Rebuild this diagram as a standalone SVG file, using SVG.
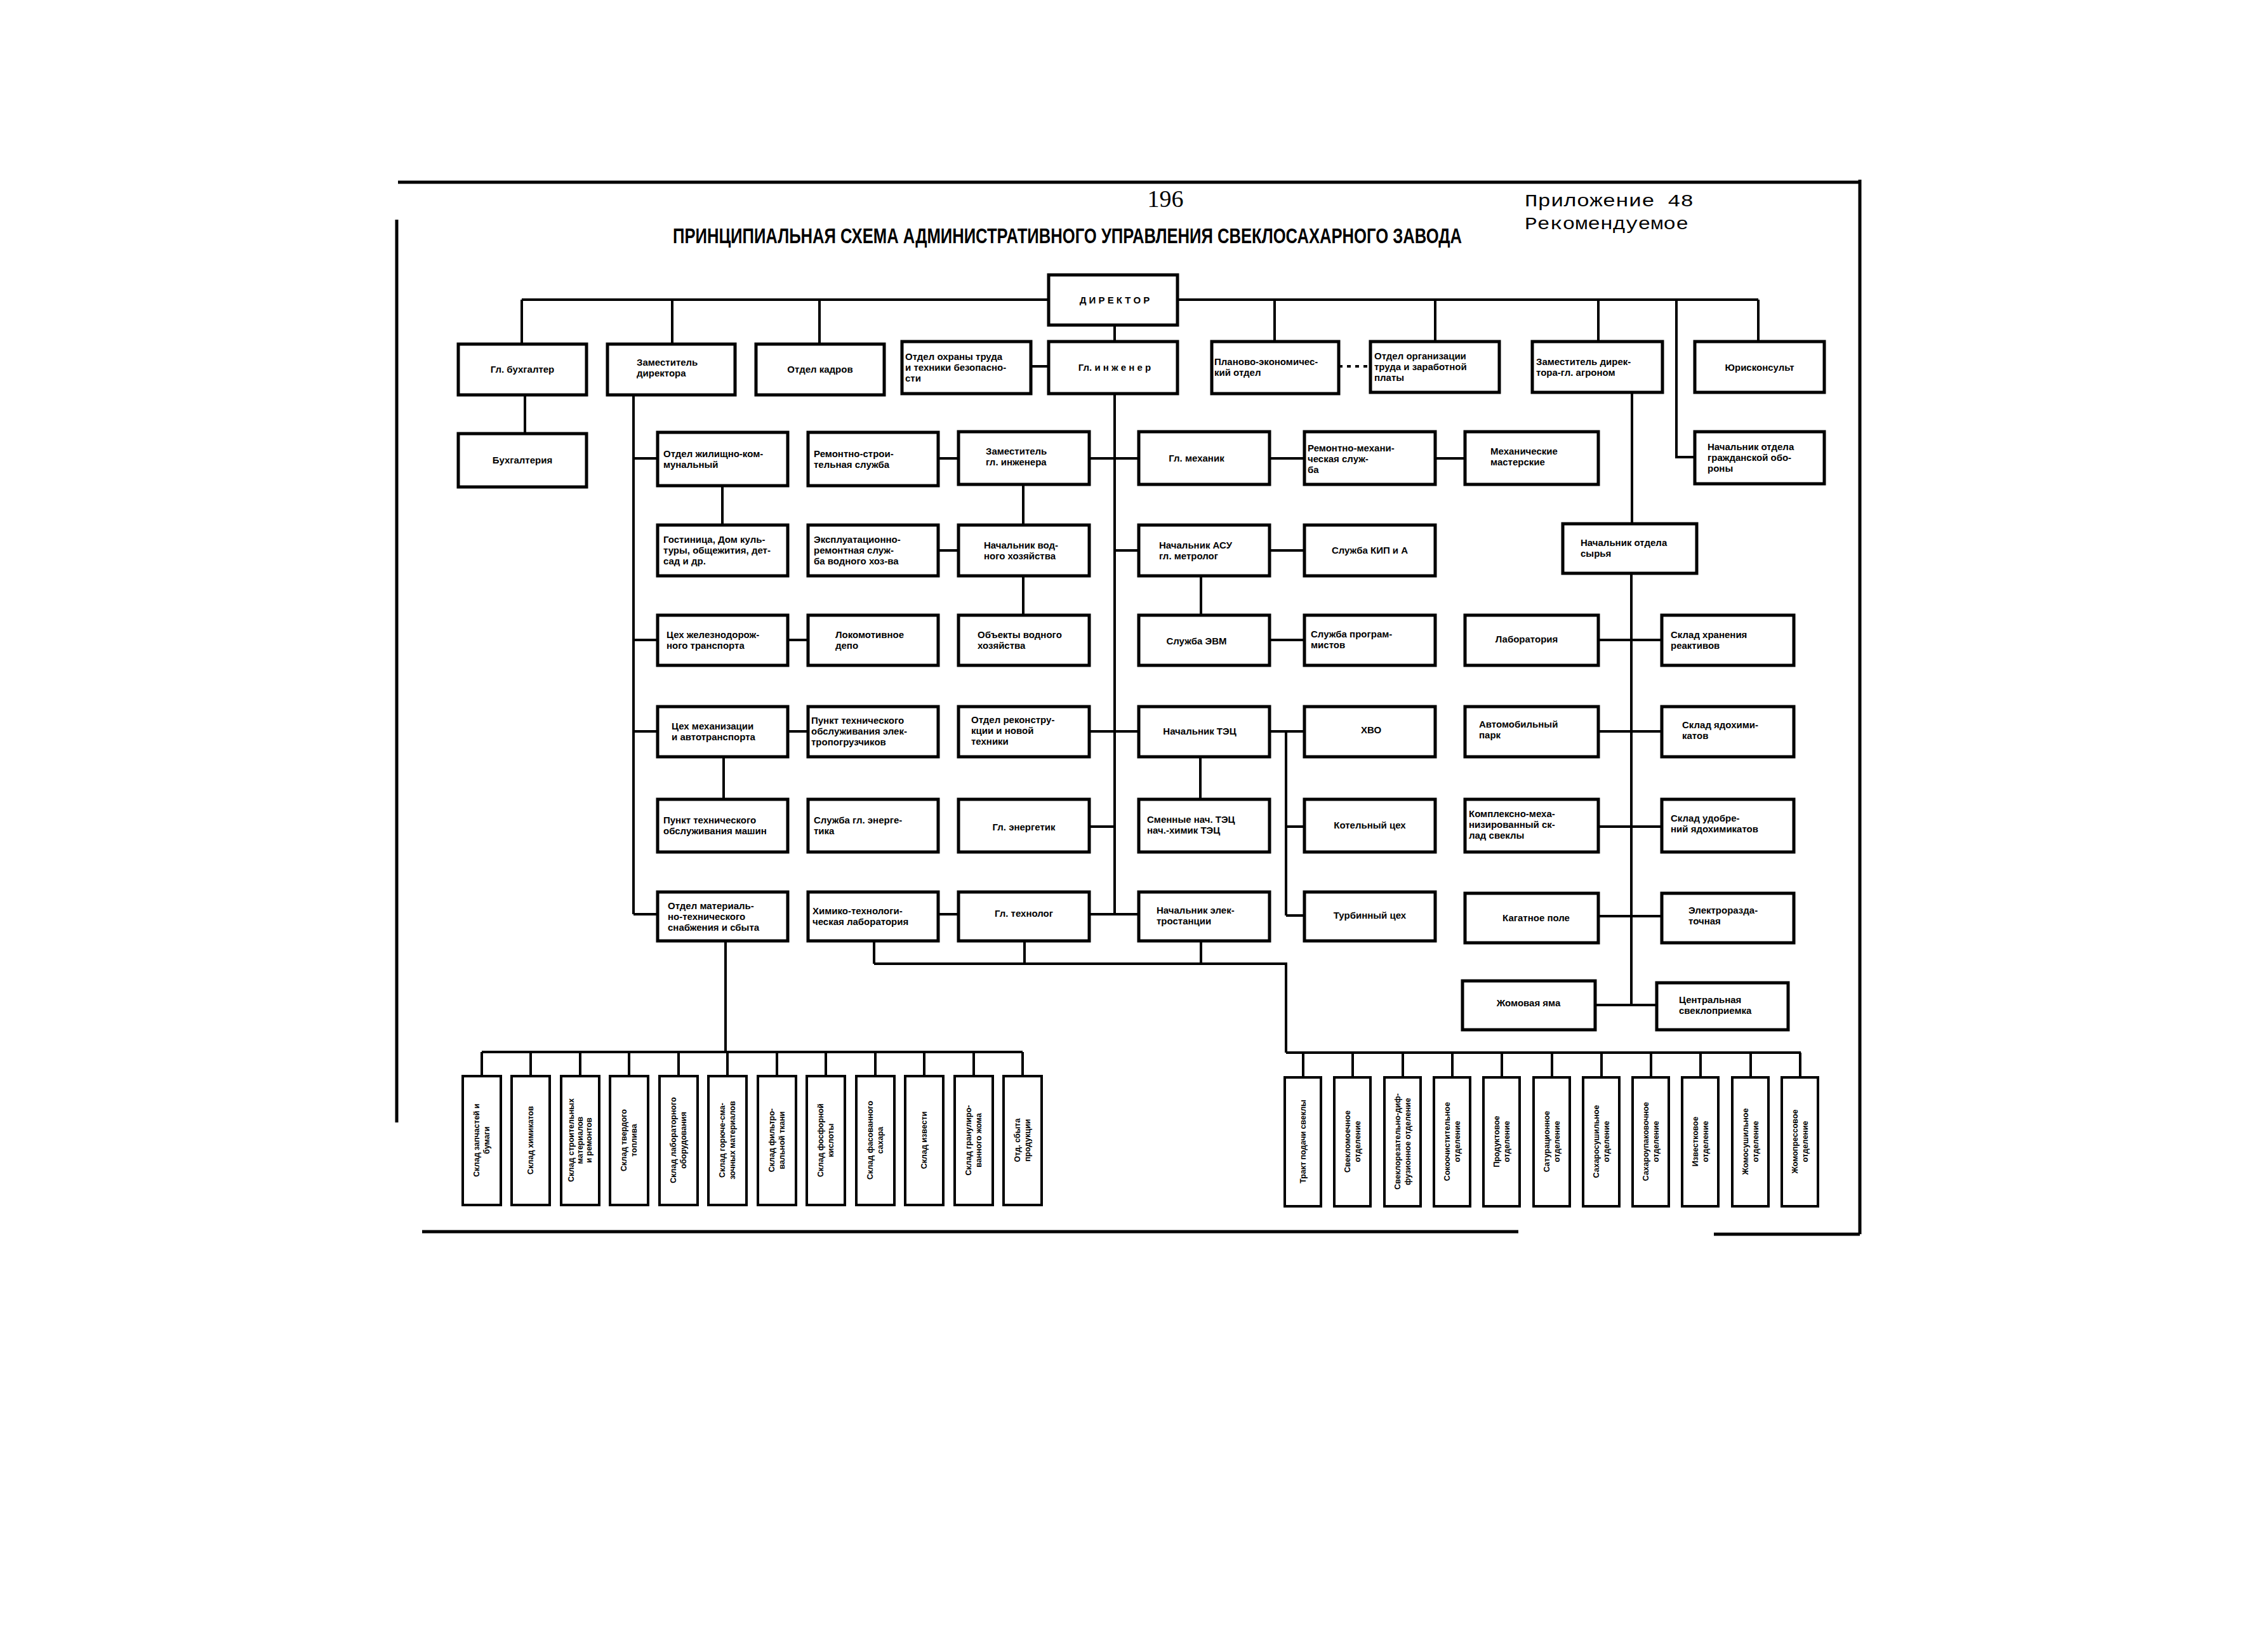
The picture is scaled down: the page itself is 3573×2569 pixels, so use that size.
<svg xmlns="http://www.w3.org/2000/svg" width="3573" height="2569" viewBox="0 0 3573 2569">
<style>
.box{fill:#fff;stroke:#000;stroke-width:5}
.vb{fill:#fff;stroke:#000;stroke-width:4}
.ln{stroke:#000;stroke-width:4;fill:none}
.dl{stroke:#000;stroke-width:4;fill:none;stroke-dasharray:6 7}
.fr{stroke:#000;stroke-width:5;fill:none}
.t{font-family:"Liberation Sans",Arial,sans-serif;font-weight:bold;font-size:15px;fill:#000}
.c{text-anchor:middle}
.v{font-family:"Liberation Sans",Arial,sans-serif;font-weight:bold;font-size:12.5px;fill:#000;text-anchor:middle}
.tw{font-family:"Liberation Mono","Courier New",monospace;font-size:28px;fill:#000}
</style>
<rect width="3573" height="2569" fill="#fff"/>
<g id="frame">
<path class="fr" d="M627 287H2930M625 346V1768M2930 283V1944M665 1940H2392M2700 1944H2930"/>
</g>
<g id="header">
<text x="1836" y="326" font-family="Liberation Serif,serif" font-size="38" text-anchor="middle">196</text>
<text transform="translate(1060,383) scale(1,1.4)" x="0" y="0" font-family="Liberation Sans,Arial,sans-serif" font-weight="bold" font-size="24" textLength="1243" lengthAdjust="spacingAndGlyphs">ПРИНЦИПИАЛЬНАЯ СХЕМА АДМИНИСТРАТИВНОГО УПРАВЛЕНИЯ СВЕКЛОСАХАРНОГО ЗАВОДА</text>
<text class="tw" x="2402" y="325" textLength="266" lengthAdjust="spacingAndGlyphs">Приложение 48</text>
<text class="tw" x="2402" y="361" textLength="258" lengthAdjust="spacingAndGlyphs">Рекомендуемое</text>
</g>
<g id="connectors">
<path class="ln" d="M822 472H1652M1855 472H2770M822 472V542M1059 472V542M1291 472V542M2008 472V538M2261 472V538M2518 472V538M2770 472V538M2641 472V720H2670M1756 512V538M1624 577H1652"/>
<path class="dl" d="M2109 577H2159"/>
<path class="ln" d="M827 622V683"/>
<path class="ln" d="M998 622V1440M998 722H1036M998 1008H1036M998 1152H1036M998 1440H1036M1138 765V827M1140 1192V1259M1241 1008H1273M1241 1152H1273"/>
<path class="ln" d="M1478 722H1510M1478 867H1510M1612 765V827M1612 907V969M1478 1440H1510"/>
<path class="ln" d="M1756 620V1440M1716 722H1794M1756 867H1794M1716 1152H1794M1716 1302H1756M1716 1440H1794"/>
<path class="ln" d="M2000 722H2055M2261 722H2308M2000 867H2055M1892 907V969M2000 1008H2055M2000 1152H2055M1891 1192V1259M2026 1152V1442M2026 1302H2055M2026 1442H2055"/>
<path class="ln" d="M1377 1483V1518M1614 1483V1518M1892 1483V1518M1377 1518H2026V1658M2026 1658H2837"/>
<path class="ln" d="M2053 1658V1697M2131 1658V1697M2210 1658V1697M2288 1658V1697M2366 1658V1697M2445 1658V1697M2523 1658V1697M2601 1658V1697M2679 1658V1697M2758 1658V1697M2836 1658V1697"/>
<path class="ln" d="M1143 1482V1657M759 1657H1611M759 1657V1695M836 1657V1695M914 1657V1695M991 1657V1695M1069 1657V1695M1146 1657V1695M1224 1657V1695M1301 1657V1695M1379 1657V1695M1456 1657V1695M1534 1657V1695M1611 1657V1695"/>
<path class="ln" d="M2571 618V825M2570 903V1583M2518 1008H2618M2518 1152H2618M2518 1302H2618M2518 1443H2618M2513 1583H2618"/>
</g>
<g id="n_dir"><rect class="box" x="1652" y="433" width="203" height="79"/><text class="t c" x="1756" y="478">Д И Р Е К Т О Р</text></g>
<g id="n_glinzh"><rect class="box" x="1652" y="538" width="203" height="82"/><text class="t c" x="1756" y="584">Гл. и н ж е н е р</text></g>
<g id="n_glbuh"><rect class="box" x="722" y="542" width="202" height="80"/><text class="t c" x="823" y="587">Гл. бухгалтер</text></g>
<g id="n_zamdir"><rect class="box" x="957" y="542" width="201" height="80"/><text class="t" x="1003"><tspan x="1003" y="576">Заместитель</tspan><tspan x="1003" y="593">директора</tspan></text></g>
<g id="n_kadry"><rect class="box" x="1191" y="542" width="202" height="80"/><text class="t c" x="1292" y="587">Отдел кадров</text></g>
<g id="n_ohrana"><rect class="box" x="1421" y="538" width="203" height="82"/><text class="t"><tspan x="1426" y="567">Отдел охраны труда</tspan><tspan x="1426" y="584">и техники безопасно-</tspan><tspan x="1426" y="601">сти</tspan></text></g>
<g id="n_plan"><rect class="box" x="1909" y="538" width="200" height="82"/><text class="t"><tspan x="1913" y="575">Планово-экономичес-</tspan><tspan x="1913" y="592">кий отдел</tspan></text></g>
<g id="n_orgtr"><rect class="box" x="2159" y="538" width="203" height="80"/><text class="t"><tspan x="2165" y="566">Отдел организации</tspan><tspan x="2165" y="583">труда и заработной</tspan><tspan x="2165" y="600">платы</tspan></text></g>
<g id="n_zamagr"><rect class="box" x="2414" y="538" width="205" height="80"/><text class="t"><tspan x="2420" y="575">Заместитель дирек-</tspan><tspan x="2420" y="592">тора-гл. агроном</tspan></text></g>
<g id="n_yur"><rect class="box" x="2670" y="538" width="204" height="80"/><text class="t c" x="2772" y="584">Юрисконсульт</text></g>
<g id="n_buh"><rect class="box" x="722" y="683" width="202" height="84"/><text class="t c" x="823" y="730">Бухгалтерия</text></g>
<g id="n_go"><rect class="box" x="2670" y="680" width="204" height="82"/><text class="t"><tspan x="2690" y="709">Начальник отдела</tspan><tspan x="2690" y="726">гражданской обо-</tspan><tspan x="2690" y="743">роны</tspan></text></g>
<g id="n_syr"><rect class="box" x="2462" y="825" width="211" height="78"/><text class="t"><tspan x="2490" y="860">Начальник отдела</tspan><tspan x="2490" y="877">сырья</tspan></text></g>

<g id="n_a1"><rect class="box" x="1036" y="681" width="205" height="84"/><text class="t"><tspan x="1045" y="720">Отдел жилищно-ком-</tspan><tspan x="1045" y="737">мунальный</tspan></text></g>
<g id="n_a2"><rect class="box" x="1036" y="827" width="205" height="80"/><text class="t"><tspan x="1045" y="855">Гостиница, Дом куль-</tspan><tspan x="1045" y="872">туры, общежития, дет-</tspan><tspan x="1045" y="889">сад и др.</tspan></text></g>
<g id="n_a3"><rect class="box" x="1036" y="969" width="205" height="79"/><text class="t"><tspan x="1050" y="1005">Цех железнодорож-</tspan><tspan x="1050" y="1022">ного транспорта</tspan></text></g>
<g id="n_a4"><rect class="box" x="1036" y="1113" width="205" height="79"/><text class="t"><tspan x="1058" y="1149">Цех механизации</tspan><tspan x="1058" y="1166">и автотранспорта</tspan></text></g>
<g id="n_a5"><rect class="box" x="1036" y="1259" width="205" height="83"/><text class="t"><tspan x="1045" y="1297">Пункт технического</tspan><tspan x="1045" y="1314">обслуживания машин</tspan></text></g>
<g id="n_a6"><rect class="box" x="1036" y="1405" width="205" height="77"/><text class="t"><tspan x="1052" y="1432">Отдел материаль-</tspan><tspan x="1052" y="1449">но-технического</tspan><tspan x="1052" y="1466">снабжения и сбыта</tspan></text></g>

<g id="n_b1"><rect class="box" x="1273" y="681" width="205" height="84"/><text class="t"><tspan x="1282" y="720">Ремонтно-строи-</tspan><tspan x="1282" y="737">тельная служба</tspan></text></g>
<g id="n_b2"><rect class="box" x="1273" y="827" width="205" height="80"/><text class="t"><tspan x="1282" y="855">Эксплуатационно-</tspan><tspan x="1282" y="872">ремонтная служ-</tspan><tspan x="1282" y="889">ба водного хоз-ва</tspan></text></g>
<g id="n_b3"><rect class="box" x="1273" y="969" width="205" height="79"/><text class="t"><tspan x="1316" y="1005">Локомотивное</tspan><tspan x="1316" y="1022">депо</tspan></text></g>
<g id="n_b4"><rect class="box" x="1273" y="1113" width="205" height="79"/><text class="t"><tspan x="1278" y="1140">Пункт технического</tspan><tspan x="1278" y="1157">обслуживания элек-</tspan><tspan x="1278" y="1174">тропогрузчиков</tspan></text></g>
<g id="n_b5"><rect class="box" x="1273" y="1259" width="205" height="83"/><text class="t"><tspan x="1282" y="1297">Служба гл. энерге-</tspan><tspan x="1282" y="1314">тика</tspan></text></g>
<g id="n_b6"><rect class="box" x="1273" y="1405" width="205" height="77"/><text class="t"><tspan x="1280" y="1440">Химико-технологи-</tspan><tspan x="1280" y="1457">ческая лаборатория</tspan></text></g>

<g id="n_c1"><rect class="box" x="1510" y="680" width="206" height="83"/><text class="t"><tspan x="1553" y="716">Заместитель</tspan><tspan x="1553" y="733">гл. инженера</tspan></text></g>
<g id="n_c2"><rect class="box" x="1510" y="827" width="206" height="80"/><text class="t"><tspan x="1550" y="864">Начальник вод-</tspan><tspan x="1550" y="881">ного хозяйства</tspan></text></g>
<g id="n_c3"><rect class="box" x="1510" y="969" width="206" height="79"/><text class="t"><tspan x="1540" y="1005">Объекты водного</tspan><tspan x="1540" y="1022">хозяйства</tspan></text></g>
<g id="n_c4"><rect class="box" x="1510" y="1113" width="206" height="79"/><text class="t"><tspan x="1530" y="1139">Отдел реконстру-</tspan><tspan x="1530" y="1156">кции и новой</tspan><tspan x="1530" y="1173">техники</tspan></text></g>
<g id="n_c5"><rect class="box" x="1510" y="1259" width="206" height="83"/><text class="t c" x="1613" y="1308">Гл. энергетик</text></g>
<g id="n_c6"><rect class="box" x="1510" y="1405" width="206" height="77"/><text class="t c" x="1613" y="1444">Гл. технолог</text></g>

<g id="n_d1"><rect class="box" x="1794" y="680" width="206" height="83"/><text class="t c" x="1885" y="727">Гл. механик</text></g>
<g id="n_d2"><rect class="box" x="1794" y="827" width="206" height="80"/><text class="t"><tspan x="1826" y="864">Начальник АСУ</tspan><tspan x="1826" y="881">гл. метролог</tspan></text></g>
<g id="n_d3"><rect class="box" x="1794" y="969" width="206" height="79"/><text class="t c" x="1885" y="1015">Служба ЭВМ</text></g>
<g id="n_d4"><rect class="box" x="1794" y="1113" width="206" height="79"/><text class="t c" x="1890" y="1157">Начальник ТЭЦ</text></g>
<g id="n_d5"><rect class="box" x="1794" y="1259" width="206" height="83"/><text class="t"><tspan x="1807" y="1296">Сменные нач. ТЭЦ</tspan><tspan x="1807" y="1313">нач.-химик ТЭЦ</tspan></text></g>
<g id="n_d6"><rect class="box" x="1794" y="1405" width="206" height="77"/><text class="t"><tspan x="1822" y="1439">Начальник элек-</tspan><tspan x="1822" y="1456">тростанции</tspan></text></g>

<g id="n_e1"><rect class="box" x="2055" y="680" width="206" height="83"/><text class="t"><tspan x="2060" y="711">Ремонтно-механи-</tspan><tspan x="2060" y="728">ческая служ-</tspan><tspan x="2060" y="745">ба</tspan></text></g>
<g id="n_e2"><rect class="box" x="2055" y="827" width="206" height="80"/><text class="t c" x="2158" y="872">Служба КИП и А</text></g>
<g id="n_e3"><rect class="box" x="2055" y="969" width="206" height="79"/><text class="t"><tspan x="2065" y="1004">Служба програм-</tspan><tspan x="2065" y="1021">мистов</tspan></text></g>
<g id="n_e4"><rect class="box" x="2055" y="1113" width="206" height="79"/><text class="t c" x="2160" y="1155">ХВО</text></g>
<g id="n_e5"><rect class="box" x="2055" y="1259" width="206" height="83"/><text class="t c" x="2158" y="1305">Котельный цех</text></g>
<g id="n_e6"><rect class="box" x="2055" y="1405" width="206" height="77"/><text class="t c" x="2158" y="1447">Турбинный цех</text></g>

<g id="n_f1"><rect class="box" x="2308" y="680" width="210" height="83"/><text class="t"><tspan x="2348" y="716">Механические</tspan><tspan x="2348" y="733">мастерские</tspan></text></g>
<g id="n_f3"><rect class="box" x="2308" y="969" width="210" height="79"/><text class="t c" x="2405" y="1012">Лаборатория</text></g>
<g id="n_f4"><rect class="box" x="2308" y="1113" width="210" height="79"/><text class="t"><tspan x="2330" y="1146">Автомобильный</tspan><tspan x="2330" y="1163">парк</tspan></text></g>
<g id="n_f5"><rect class="box" x="2308" y="1259" width="210" height="83"/><text class="t"><tspan x="2314" y="1287">Комплексно-меха-</tspan><tspan x="2314" y="1304">низированный ск-</tspan><tspan x="2314" y="1321">лад свеклы</tspan></text></g>
<g id="n_f6"><rect class="box" x="2308" y="1407" width="210" height="78"/><text class="t c" x="2420" y="1451">Кагатное поле</text></g>
<g id="n_f7"><rect class="box" x="2304" y="1545" width="209" height="77"/><text class="t c" x="2408" y="1585">Жомовая яма</text></g>

<g id="n_g3"><rect class="box" x="2618" y="969" width="208" height="79"/><text class="t"><tspan x="2632" y="1005">Склад хранения</tspan><tspan x="2632" y="1022">реактивов</tspan></text></g>
<g id="n_g4"><rect class="box" x="2618" y="1113" width="208" height="79"/><text class="t"><tspan x="2650" y="1147">Склад ядохими-</tspan><tspan x="2650" y="1164">катов</tspan></text></g>
<g id="n_g5"><rect class="box" x="2618" y="1259" width="208" height="83"/><text class="t"><tspan x="2632" y="1294">Склад удобре-</tspan><tspan x="2632" y="1311">ний ядохимикатов</tspan></text></g>
<g id="n_g6"><rect class="box" x="2618" y="1407" width="208" height="78"/><text class="t"><tspan x="2660" y="1439">Электроразда-</tspan><tspan x="2660" y="1456">точная</tspan></text></g>
<g id="n_g7"><rect class="box" x="2610" y="1548" width="207" height="74"/><text class="t"><tspan x="2645" y="1580">Центральная</tspan><tspan x="2645" y="1597">свеклоприемка</tspan></text></g>

<g id="n_s1"><rect class="vb" x="729" y="1695" width="60" height="203"/><text class="v" transform="translate(759,1796) rotate(-90)"><tspan x="0" y="-4">Склад запчастей и</tspan><tspan x="0" y="12">бумаги</tspan></text></g>
<g id="n_s2"><rect class="vb" x="806" y="1695" width="60" height="203"/><text class="v" transform="translate(836,1796) rotate(-90)"><tspan x="0" y="4">Склад химикатов</tspan></text></g>
<g id="n_s3"><rect class="vb" x="884" y="1695" width="60" height="203"/><text class="v" transform="translate(914,1796) rotate(-90)"><tspan x="0" y="-10">Склад строительных</tspan><tspan x="0" y="4">материалов</tspan><tspan x="0" y="18">и ремонтов</tspan></text></g>
<g id="n_s4"><rect class="vb" x="961" y="1695" width="60" height="203"/><text class="v" transform="translate(991,1796) rotate(-90)"><tspan x="0" y="-4">Склад твердого</tspan><tspan x="0" y="12">топлива</tspan></text></g>
<g id="n_s5"><rect class="vb" x="1039" y="1695" width="60" height="203"/><text class="v" transform="translate(1069,1796) rotate(-90)"><tspan x="0" y="-4">Склад лабораторного</tspan><tspan x="0" y="12">оборудования</tspan></text></g>
<g id="n_s6"><rect class="vb" x="1116" y="1695" width="60" height="203"/><text class="v" transform="translate(1146,1796) rotate(-90)"><tspan x="0" y="-4">Склад горюче-сма-</tspan><tspan x="0" y="12">зочных материалов</tspan></text></g>
<g id="n_s7"><rect class="vb" x="1194" y="1695" width="60" height="203"/><text class="v" transform="translate(1224,1796) rotate(-90)"><tspan x="0" y="-4">Склад фильтро-</tspan><tspan x="0" y="12">вальной ткани</tspan></text></g>
<g id="n_s8"><rect class="vb" x="1271" y="1695" width="60" height="203"/><text class="v" transform="translate(1301,1796) rotate(-90)"><tspan x="0" y="-4">Склад фосфорной</tspan><tspan x="0" y="12">кислоты</tspan></text></g>
<g id="n_s9"><rect class="vb" x="1349" y="1695" width="60" height="203"/><text class="v" transform="translate(1379,1796) rotate(-90)"><tspan x="0" y="-4">Склад фасованного</tspan><tspan x="0" y="12">сахара</tspan></text></g>
<g id="n_s10"><rect class="vb" x="1426" y="1695" width="60" height="203"/><text class="v" transform="translate(1456,1796) rotate(-90)"><tspan x="0" y="4">Склад извести</tspan></text></g>
<g id="n_s11"><rect class="vb" x="1504" y="1695" width="60" height="203"/><text class="v" transform="translate(1534,1796) rotate(-90)"><tspan x="0" y="-4">Склад гранулиро-</tspan><tspan x="0" y="12">ванного жома</tspan></text></g>
<g id="n_s12"><rect class="vb" x="1581" y="1695" width="60" height="203"/><text class="v" transform="translate(1611,1796) rotate(-90)"><tspan x="0" y="-4">Отд. сбыта</tspan><tspan x="0" y="12">продукции</tspan></text></g>

<g id="n_p1"><rect class="vb" x="2024" y="1697" width="57" height="203"/><text class="v" transform="translate(2053,1798) rotate(-90)"><tspan x="0" y="4">Тракт подачи свеклы</tspan></text></g>
<g id="n_p2"><rect class="vb" x="2102" y="1697" width="57" height="203"/><text class="v" transform="translate(2131,1798) rotate(-90)"><tspan x="0" y="-4">Свекломоечное</tspan><tspan x="0" y="12">отделение</tspan></text></g>
<g id="n_p3"><rect class="vb" x="2181" y="1697" width="57" height="203"/><text class="v" transform="translate(2210,1798) rotate(-90)"><tspan x="0" y="-4">Свеклорезательно-диф-</tspan><tspan x="0" y="12">фузионное отделение</tspan></text></g>
<g id="n_p4"><rect class="vb" x="2259" y="1697" width="57" height="203"/><text class="v" transform="translate(2288,1798) rotate(-90)"><tspan x="0" y="-4">Сокоочистительное</tspan><tspan x="0" y="12">отделение</tspan></text></g>
<g id="n_p5"><rect class="vb" x="2337" y="1697" width="57" height="203"/><text class="v" transform="translate(2366,1798) rotate(-90)"><tspan x="0" y="-4">Продуктовое</tspan><tspan x="0" y="12">отделение</tspan></text></g>
<g id="n_p6"><rect class="vb" x="2416" y="1697" width="57" height="203"/><text class="v" transform="translate(2445,1798) rotate(-90)"><tspan x="0" y="-4">Сатурационное</tspan><tspan x="0" y="12">отделение</tspan></text></g>
<g id="n_p7"><rect class="vb" x="2494" y="1697" width="57" height="203"/><text class="v" transform="translate(2523,1798) rotate(-90)"><tspan x="0" y="-4">Сахаросушильное</tspan><tspan x="0" y="12">отделение</tspan></text></g>
<g id="n_p8"><rect class="vb" x="2572" y="1697" width="57" height="203"/><text class="v" transform="translate(2601,1798) rotate(-90)"><tspan x="0" y="-4">Сахароупаковочное</tspan><tspan x="0" y="12">отделение</tspan></text></g>
<g id="n_p9"><rect class="vb" x="2650" y="1697" width="57" height="203"/><text class="v" transform="translate(2679,1798) rotate(-90)"><tspan x="0" y="-4">Известковое</tspan><tspan x="0" y="12">отделение</tspan></text></g>
<g id="n_p10"><rect class="vb" x="2729" y="1697" width="57" height="203"/><text class="v" transform="translate(2758,1798) rotate(-90)"><tspan x="0" y="-4">Жомосушильное</tspan><tspan x="0" y="12">отделение</tspan></text></g>
<g id="n_p11"><rect class="vb" x="2807" y="1697" width="57" height="203"/><text class="v" transform="translate(2836,1798) rotate(-90)"><tspan x="0" y="-4">Жомопрессовое</tspan><tspan x="0" y="12">отделение</tspan></text></g>
</svg>
